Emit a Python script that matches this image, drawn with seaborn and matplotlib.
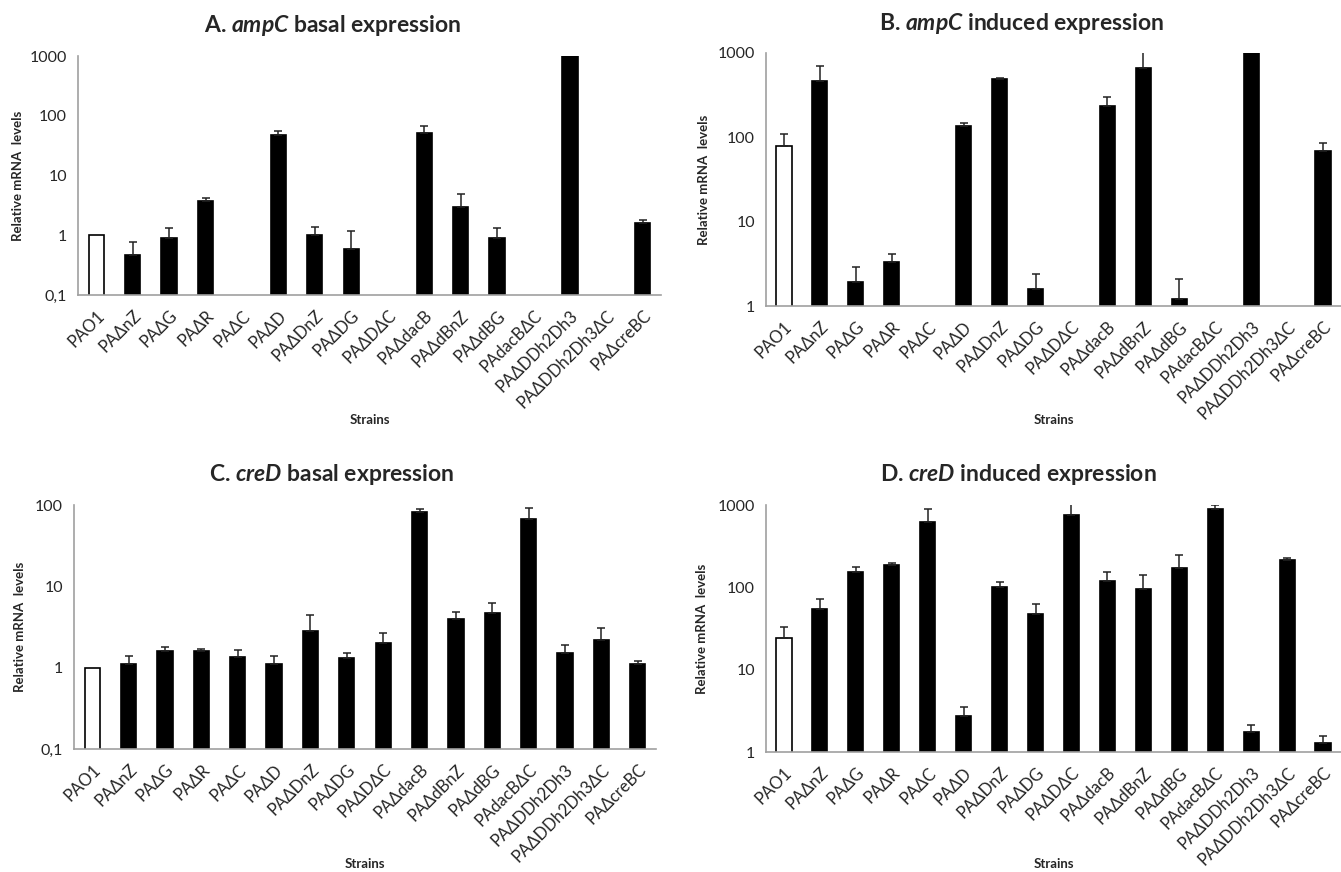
import numpy as np
import matplotlib
matplotlib.use("Agg")
import matplotlib.pyplot as plt
import matplotlib.transforms as mtransforms
import seaborn as sns

strains = ["PAO1", "PAΔnZ", "PAΔG", "PAΔR", "PAΔC", "PAΔD", "PAΔDnZ", "PAΔDG",
           "PAΔDΔC", "PAΔdacB", "PAΔdBnZ", "PAΔdBG", "PAdacBΔC", "PAΔDDh2Dh3",
           "PAΔDDh2Dh3ΔC", "PAΔcreBC"]
nan = np.nan

# mean values and upper ends of error bars
ampc_basal = [1.0, 0.46, 0.9, 3.8, nan, 47, 1.0, 0.6, nan, 52, 3.0, 0.9, nan, 1100, nan, 1.6]
ampc_basal_top = [nan, 0.78, 1.3, 4.2, nan, 56, 1.4, 1.2, nan, 67, 4.9, 1.3, nan, nan, nan, 1.8]

ampc_induced = [78, 470, 1.9, 3.3, nan, 135, 490, 1.6, nan, 235, 670, 1.2, nan, 1100, nan, 68]
ampc_induced_top = [110, 700, 2.9, 4.1, nan, 148, 510, 2.4, nan, 300, 1100, 2.1, nan, nan, nan, 86]

cred_basal = [1.0, 1.1, 1.6, 1.6, 1.35, 1.1, 2.8, 1.3, 2.0, 82, 4.0, 4.7, 68, 1.5, 2.2, 1.1]
cred_basal_top = [nan, 1.4, 1.8, 1.7, 1.65, 1.4, 4.4, 1.5, 2.7, 90, 4.8, 6.2, 92, 1.9, 3.1, 1.2]

cred_induced = [24, 54, 152, 188, 620, 2.7, 100, 47, 750, 120, 96, 172, 900, 1.75, 212, 1.3]
cred_induced_top = [33, 73, 178, 198, 890, 3.5, 115, 62, 1100, 152, 142, 245, 1000, 2.15, 228, 1.55]

W, H = 1341, 872


def draw_panel(fig, rect_px, vals, tops, gene, kind, letter, ylim, yticks, ylabels,
               ylabel_x, strains_y, title_xy):
    left, top, right, bottom = rect_px
    ax = fig.add_axes([left / W, 1 - bottom / H, (right - left) / W, (bottom - top) / H])
    colors = ["white"] + ["black"] * (len(strains) - 1)
    sns.barplot(x=strains, y=vals, hue=strains, palette=colors, legend=False,
                width=0.42, edgecolor="black", linewidth=1.2, errorbar=None, ax=ax)
    x = np.arange(len(strains))
    v = np.array(vals, dtype=float)
    t = np.array(tops, dtype=float)
    ok = ~np.isnan(t) & ~np.isnan(v)
    ax.errorbar(x[ok], v[ok], yerr=[np.zeros(ok.sum()), t[ok] - v[ok]], fmt="none",
                ecolor="#222222", elinewidth=1.1, capsize=3, capthick=1.1)
    ax.set_yscale("log")
    ax.set_ylim(*ylim)
    ax.set_xlim(-0.5, len(strains) - 0.5)
    ax.yaxis.set_major_locator(matplotlib.ticker.FixedLocator(yticks))
    ax.yaxis.set_minor_locator(matplotlib.ticker.NullLocator())
    ax.set_yticklabels(ylabels)
    ax.set_xticks(x)
    ax.set_xticklabels(strains, rotation=45, ha="right", rotation_mode="anchor")
    # nudge the rotated labels a little left so the last one stays inside the figure
    shift = mtransforms.ScaledTranslation(-4 / 100, 0, fig.dpi_scale_trans)
    for lab in ax.get_xticklabels():
        lab.set_transform(lab.get_transform() + shift)
    ax.tick_params(axis="x", length=0, pad=9, labelsize=12)
    ax.tick_params(axis="y", length=4, color="#a0a0a0", labelsize=11.5, pad=4)
    for s in ["top", "right"]:
        ax.spines[s].set_visible(False)
    for s in ["left", "bottom"]:
        ax.spines[s].set_color("#a0a0a0")
        ax.spines[s].set_linewidth(1.2)
    ax.grid(False)
    ax.set_facecolor("white")
    tx = (title_xy[0] - left) / (right - left)
    ty = 1 + (top - title_xy[1]) / (bottom - top)
    ax.set_title(f"{letter}. ${gene}$ {kind} expression", fontsize=16.5, fontweight="bold",
                 x=tx, y=ty, va="center", pad=0)
    ax.set_ylabel("Relative mRNA  levels", fontsize=9.5, fontweight="bold")
    ax.yaxis.label.set_va("center")
    ax.yaxis.set_label_coords(ylabel_x / W, 1 - (top + bottom) / 2 / H, transform=fig.transFigure)
    ax.set_xlabel("Strains", fontsize=9.5, fontweight="bold")
    ax.xaxis.label.set_va("center")
    ax.xaxis.set_label_coords((left + right) / 2 / W, 1 - strains_y / H, transform=fig.transFigure)
    return ax


sns.set_theme(style="white")
plt.rcParams["font.family"] = ["Lato", "DejaVu Sans"]
plt.rcParams["mathtext.fontset"] = "custom"
plt.rcParams["mathtext.it"] = "Lato:bold:italic"
plt.rcParams["mathtext.rm"] = "Lato:bold"

fig = plt.figure(figsize=(W / 100, H / 100), dpi=100)
fig.patch.set_facecolor("white")

draw_panel(fig, (78, 56, 661, 295), ampc_basal, ampc_basal_top, "ampC", "basal", "A",
           (0.1, 1000), [0.1, 1, 10, 100, 1000], ["0,1", "1", "10", "100", "1000"],
           18, 420, (333, 25))
draw_panel(fig, (766, 53, 1341, 306), ampc_induced, ampc_induced_top, "ampC", "induced", "B",
           (1, 1000), [1, 10, 100, 1000], ["1", "10", "100", "1000"],
           704, 420, (1022, 23))
draw_panel(fig, (74, 505, 656, 749), cred_basal, cred_basal_top, "creD", "basal", "C",
           (0.1, 100), [0.1, 1, 10, 100], ["0,1", "1", "10", "100"],
           20, 864, (332, 474))
draw_panel(fig, (766, 505, 1341, 752), cred_induced, cred_induced_top, "creD", "induced", "D",
           (1, 1000), [1, 10, 100, 1000], ["1", "10", "100", "1000"],
           702, 864, (1018, 474))

fig.savefig("out.png", dpi=100, facecolor="white")
